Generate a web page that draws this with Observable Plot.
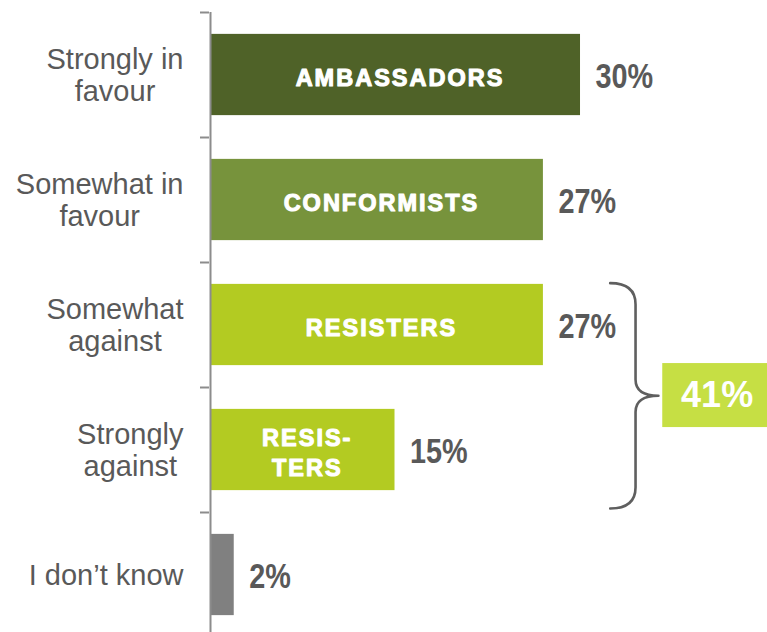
<!DOCTYPE html>
<html><head><meta charset="utf-8">
<script src="https://cdn.jsdelivr.net/npm/d3@7"></script>
<script src="https://cdn.jsdelivr.net/npm/@observablehq/plot@0.6"></script>
<style>
html,body{margin:0;padding:0;background:#fff;}
#chart{width:767px;height:632px;overflow:hidden;}
</style></head><body><div id="chart"></div>
<script>
// ---- data ----
const categories = ["Strongly in\nfavour", "Somewhat in\nfavour", "Somewhat\nagainst", "Strongly\nagainst", "I don’t know"];
const values = [30, 27, 27, 15, 2];
const segments = ["AMBASSADORS", "CONFORMISTS", "RESISTERS", "RESIS-\nTERS", ""];
const barColors = ["#4f6228", "#77933c", "#b3cb22", "#b3cb22", "#808080"];
const groupIndices = [2, 3];
const groupLabel = "41%";

// ---- derived tables ----
const rows = categories.map((label, i) => ({i, label, value: values[i], seg: segments[i], color: barColors[i]}));
const boundaries = categories.map((_, i) => i - 0.5);

const half = 0.325;
const gMax = d3.max(groupIndices, i => values[i]);
const yT = groupIndices[0] - 0.335;
const yB = groupIndices[groupIndices.length - 1] + 0.468;
const mid = (yT + yB) / 2;
const xt = gMax + 5.4, xs = xt + 2.05, xp = xs + 1.85;
const brace = [
  [xt, yT],
  [xs, yT], [xs, yT + 0.17],
  [xs, mid - 0.2], [xs, mid - 0.13],
  [xs, mid], [xp, mid],
  [xs, mid], [xs, mid + 0.13],
  [xs, mid + 0.2], [xs, yB - 0.17],
  [xs, yB], [xt, yB]
].map(([x, y]) => ({x, y}));

// quadratic-bezier sequence curve: p0, (control, point), (control, point) ...
function quadCurve(context) {
  let pts = [];
  return {
    areaStart() {}, areaEnd() {},
    lineStart() { pts = []; },
    point(x, y) { pts.push([+x, +y]); },
    lineEnd() {
      if (!pts.length) return;
      context.moveTo(pts[0][0], pts[0][1]);
      for (let k = 1; k + 1 < pts.length; k += 2) context.quadraticCurveTo(pts[k][0], pts[k][1], pts[k + 1][0], pts[k + 1][1]);
    }
  };
}

const xMax = 45.12;
const sans = "'Liberation Sans', Arial, sans-serif";
const grey = "#595959";

const chart = Plot.plot({
  width: 767,
  height: 632,
  marginLeft: 209,
  marginRight: 0,
  marginTop: 12,
  marginBottom: 0,
  x: {domain: [0, xMax], axis: null},
  y: {domain: [-0.5, 4.46], reverse: true, axis: null},
  color: {type: "identity"},
  style: {background: "white", overflow: "visible"},
  marks: [
    Plot.rect(rows, {x1: () => 0, x2: "value", y1: d => d.i - half, y2: d => d.i + half, fill: "color", insetLeft: 2}),
    Plot.ruleX([0], {stroke: "#8c8c8c", strokeWidth: 2, dx: 1}),
    Plot.ruleY(boundaries, {y: d => d, x1: () => 0, x2: () => 0, insetLeft: -9, stroke: "#8c8c8c", strokeWidth: 2}),
    // text mark 0: category labels
    Plot.text(rows, {y: "i", text: "label", frameAnchor: "left", dx: -26, textAnchor: "end", lineAnchor: "middle", fontSize: 29, lineHeight: 1.1, fill: grey, fontFamily: sans}),
    // text mark 1: segment labels (heavy, Arial Black-like)
    Plot.text(rows.filter(d => d.seg), {x: d => d.value / 2, y: "i", text: "seg", dx: 5, dy: 1, textAnchor: "middle", lineAnchor: "middle", fontSize: 23.5, lineHeight: 1.3, fontWeight: "bold", fill: "white", stroke: "white", strokeWidth: 1.1, fontFamily: sans}),
    // text mark 2: value labels
    Plot.text(rows, {x: "value", y: "i", text: d => d.value + "%", dx: 15, dy: 1, textAnchor: "start", lineAnchor: "middle", fontSize: 36, fontWeight: "bold", fill: grey, fontFamily: sans}),
    Plot.line(brace, {x: "x", y: "y", curve: quadCurve, stroke: "#5f5f5f", strokeWidth: 2.6, fill: "none"}),
    Plot.rect([groupLabel], {x1: () => xp + 0.35, x2: () => xMax, y1: () => mid - 0.258, y2: () => mid + 0.254, fill: "#c6df44"}),
    // text mark 3: group label
    Plot.text([groupLabel], {x: () => (xp + 0.35 + xMax) / 2, y: () => mid, text: d => d, dx: 2, textAnchor: "middle", lineAnchor: "middle", fontSize: 36, fontWeight: "bold", fill: "white", fontFamily: sans})
  ]
});

document.getElementById("chart").appendChild(chart);

const textGroups = chart.querySelectorAll('g[aria-label="text"]');
// centre the lines of each category label inside its right-aligned block
textGroups[0].querySelectorAll("text").forEach(t => {
  const spans = t.querySelectorAll("tspan");
  if (spans.length < 2) return;
  const ws = [...spans].map(s => s.getComputedTextLength());
  const M = Math.max(...ws);
  spans.forEach((s, k) => s.setAttribute("x", -(M - ws[k]) / 2));
});
// slight tracking on the segment labels
textGroups[1].querySelectorAll("text").forEach(t => t.setAttribute("letter-spacing", "2"));
// narrow (Arial Narrow-like) value labels
textGroups[2].querySelectorAll("text").forEach(t => {
  const tr = t.getAttribute("transform") || "";
  t.setAttribute("transform", tr + " scale(0.8,1)");
});
</script></body></html>
